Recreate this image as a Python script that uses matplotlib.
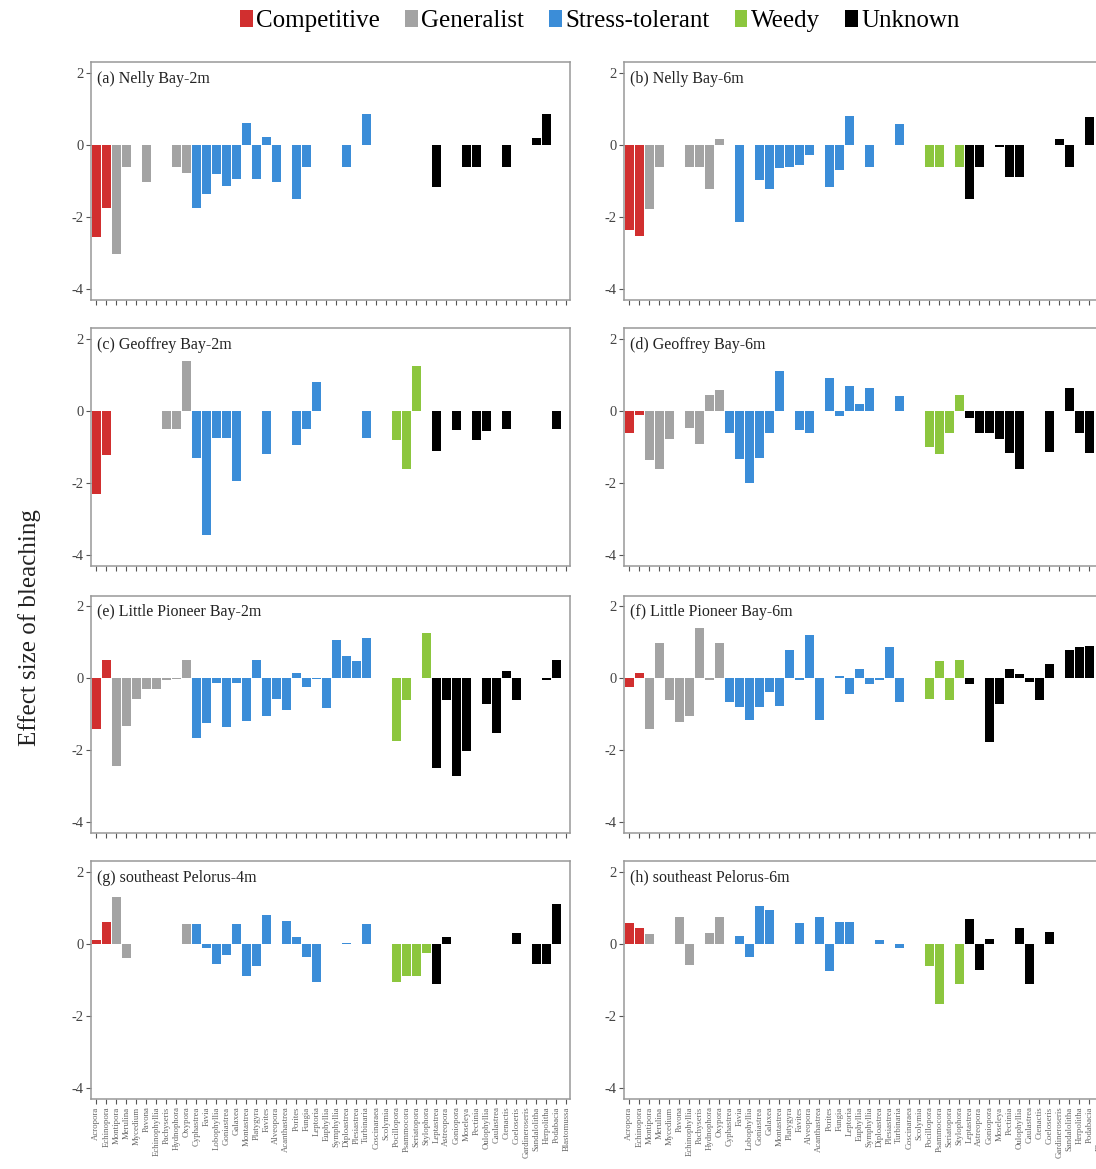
import numpy as np
import matplotlib.pyplot as plt
from matplotlib.patches import Patch

plt.rcParams['font.family'] = ['Liberation Serif', 'DejaVu Serif']
plt.rcParams['axes.unicode_minus'] = False

n = np.nan

# genera on the x axis, ordered by life history strategy
genera = ['Acropora', 'Echinopora',
          'Montipora', 'Merulina', 'Mycedium', 'Pavona', 'Echinophyllia', 'Pachyseris', 'Hydnophora', 'Oxypora',
          'Cyphastrea', 'Favia', 'Lobophyllia', 'Goniastrea', 'Galaxea', 'Montastrea', 'Platygyra', 'Favites',
          'Alveopora', 'Acanthastrea', 'Porites', 'Fungia', 'Leptoria', 'Euphyllia', 'Symphyllia', 'Diploastrea',
          'Plesiastrea', 'Turbinaria', 'Coscinaraea', 'Scolymia',
          'Pocillopora', 'Psammocora', 'Seriatopora', 'Stylophora',
          'Leptastrea', 'Astreopora', 'Goniopora', 'Moseleya', 'Pectinia', 'Oulophyllia', 'Caulastrea',
          'Ctenactis', 'Coeloseris', 'Gardineroseris', 'Sandalolitha', 'Herpolitha', 'Podabacia', 'Blastomussa']
strategy = (['Competitive'] * 2 + ['Generalist'] * 8 + ['Stress-tolerant'] * 20
            + ['Weedy'] * 4 + ['Unknown'] * 14)
strategies = ['Competitive', 'Generalist', 'Stress-tolerant', 'Weedy', 'Unknown']
strategy_colors = {'Competitive': '#d12f2f', 'Generalist': '#a3a3a3', 'Stress-tolerant': '#3b8dd8',
                   'Weedy': '#8cc63e', 'Unknown': '#000000'}

# effect size of bleaching per genus (nan = genus absent)
nelly_2m = [-2.56, -1.76, -3.04, -0.62, n, -1.02, n, n, -0.62, -0.79,
            -1.76, -1.36, -0.80, -1.13, -0.94, 0.62, -0.94, 0.23, -1.02, n,
            -1.50, -0.62, n, n, n, -0.62, n, 0.86, n, n,
            n, n, n, n, -1.18, n, n, -0.62, -0.62, n,
            n, -0.62, n, n, 0.20, 0.86, n, n]
nelly_6m = [-2.37, -2.53, -1.77, -0.61, n, n, -0.61, -0.61, -1.21, 0.18,
            n, -2.14, n, -0.98, -1.21, -0.64, -0.61, -0.56, -0.29, n,
            -1.17, -0.70, 0.80, n, -0.61, n, n, 0.57, n, n,
            -0.61, -0.61, n, -0.61, -1.49, -0.61, n, -0.05, -0.89, -0.89,
            n, n, n, 0.18, -0.61, n, 0.78, n]
geoffrey_2m = [-2.30, -1.22, n, n, n, n, n, -0.50, -0.50, 1.40,
               -1.30, -3.45, -0.75, -0.75, -1.95, n, n, -1.20, n, n,
               -0.95, -0.50, 0.80, n, n, n, n, -0.75, n, n,
               -0.80, -1.60, 1.25, n, -1.10, n, -0.52, n, -0.80, -0.55,
               n, -0.50, n, n, n, n, -0.50, n]
geoffrey_6m = [-0.62, -0.10, -1.36, -1.60, -0.77, n, -0.46, -0.93, 0.44, 0.58,
               -0.62, -1.34, -1.99, -1.30, -0.62, 1.11, n, -0.53, -0.60, n,
               0.93, -0.14, 0.69, 0.20, 0.65, n, n, 0.42, n, n,
               -1.00, -1.20, -0.60, 0.44, -0.19, -0.60, -0.60, -0.79, -1.18, -1.60,
               n, n, -1.13, n, 0.63, -0.62, -1.18, n]
pioneer_2m = [-1.42, 0.51, -2.43, -1.32, -0.58, -0.30, -0.30, -0.05, -0.03, 0.51,
              -1.67, -1.25, -0.14, -1.34, -0.14, -1.18, 0.51, -1.05, -0.58, -0.88,
              0.14, -0.25, -0.03, -0.83, 1.06, 0.62, 0.49, 1.13, n, n,
              -1.73, -0.60, n, 1.25, -2.48, -0.60, -2.71, -2.02, n, -0.72,
              -1.53, 0.19, -0.60, n, n, -0.05, 0.51, n]
pioneer_6m = [-0.23, 0.14, -1.41, 0.97, -0.60, -1.22, -1.06, 1.39, -0.04, 0.97,
              -0.67, -0.81, -1.16, -0.81, -0.37, -0.76, 0.79, -0.05, 1.19, -1.16,
              n, 0.06, -0.44, 0.26, -0.17, -0.05, 0.88, -0.65, n, n,
              -0.57, 0.48, -0.60, 0.51, -0.17, n, -1.76, -0.72, 0.26, 0.11,
              -0.09, -0.60, 0.40, n, 0.79, 0.86, 0.90, n]
pelorus_4m = [0.10, 0.60, 1.30, -0.40, n, n, n, n, n, 0.55,
              0.55, -0.10, -0.55, -0.30, 0.55, -0.90, -0.60, 0.80, n, 0.65,
              0.20, -0.35, -1.05, n, n, 0.02, n, 0.55, n, n,
              -1.05, -0.90, -0.90, -0.25, -1.10, 0.20, n, n, n, n,
              n, n, 0.30, n, -0.55, -0.55, 1.10, n]
pelorus_6m = [0.58, 0.45, 0.29, n, n, 0.75, -0.57, n, 0.31, 0.75,
              n, 0.22, -0.36, 1.06, 0.94, n, n, 0.58, n, 0.75,
              -0.76, 0.61, 0.61, n, n, 0.12, n, -0.10, n, n,
              -0.61, -1.66, n, -1.10, 0.69, -0.73, 0.15, n, n, 0.45,
              -1.10, n, 0.33, n, n, n, n, n]

panels = [('(a) Nelly Bay-2m', nelly_2m), ('(b) Nelly Bay-6m', nelly_6m),
          ('(c) Geoffrey Bay-2m', geoffrey_2m), ('(d) Geoffrey Bay-6m', geoffrey_6m),
          ('(e) Little Pioneer Bay-2m', pioneer_2m), ('(f) Little Pioneer Bay-6m', pioneer_6m),
          ('(g) southeast Pelorus-4m', pelorus_4m), ('(h) southeast Pelorus-6m', pelorus_6m)]

W, H = 1096, 1169
fig = plt.figure(figsize=(W / 100, H / 100), dpi=100)

col_left = [91.3, 624.3]
row_top = [62.2, 328.2, 595.5, 861.2]
ax_w, ax_h = 478.7, 237.6

x = np.arange(len(genera))
colors = np.array([strategy_colors[s] for s in strategy])

for i, (title, vals) in enumerate(panels):
    r, c = divmod(i, 2)
    ax = fig.add_axes([col_left[c] / W, 1 - (row_top[r] + ax_h) / H, ax_w / W, ax_h / H])
    vals = np.array(vals, dtype=float)
    ok = ~np.isnan(vals)
    ax.bar(x[ok], vals[ok], width=0.9, color=colors[ok], linewidth=0)
    ax.set_xlim(-0.5, 47.37)
    ax.set_ylim(-4.3, 2.3)
    ax.set_yticks([-4, -2, 0, 2])
    ax.set_yticklabels(['-4', '-2', '0', '2'], fontsize=10.5, color='#444444')
    ax.set_xticks(x)
    if r == 3:
        ax.set_xticklabels(genera, rotation=90, fontsize=6.3, color='#666666')
    else:
        ax.set_xticklabels([])
    ax.tick_params(axis='both', length=3.5, width=0.8, color='#555555', pad=2)
    for sp in ax.spines.values():
        sp.set_color('#999999')
        sp.set_linewidth(1.1)
    ax.text(0.012, 0.965, title, transform=ax.transAxes, ha='left', va='top',
            fontsize=11.5, color='#222222')

fig.text(30 / W, 1 - 628 / H, 'Effect size of bleaching', rotation=90,
         ha='center', va='center', fontsize=18, color='#222222')

handles = [Patch(facecolor=strategy_colors[s], edgecolor='none') for s in strategies]
fig.legend(handles, strategies, loc='center', bbox_to_anchor=(600 / W, 1 - 21 / H), ncol=5,
           frameon=False, fontsize=18, handlelength=0.5, handleheight=0.7,
           handletextpad=0.15, columnspacing=1.0, borderpad=0)

fig.savefig('out.png', dpi=100)
